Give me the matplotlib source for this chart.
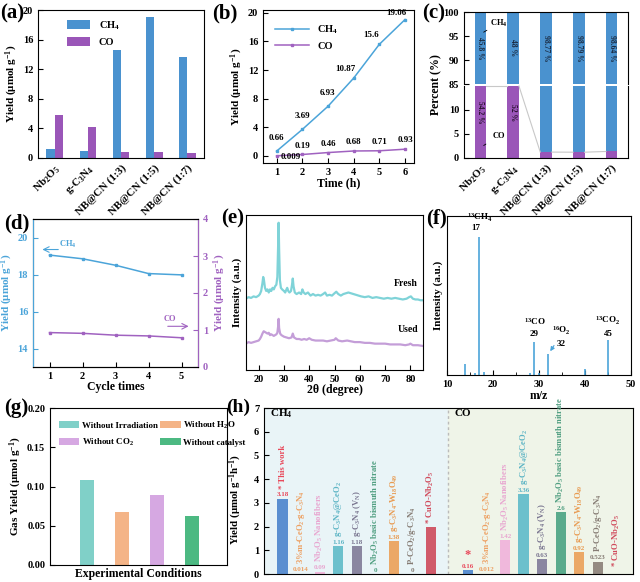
import matplotlib
matplotlib.use("Agg")
import matplotlib.pyplot as plt
import numpy as np

plt.rcParams['font.family'] = ['Liberation Serif', 'DejaVu Serif']
plt.rcParams['font.weight'] = 'bold'
plt.rcParams['axes.labelweight'] = 'bold'
plt.rcParams['mathtext.fontset'] = 'custom'
plt.rcParams['mathtext.rm'] = 'Liberation Serif:bold'
plt.rcParams['mathtext.it'] = 'Liberation Serif:bold'
plt.rcParams['mathtext.bf'] = 'Liberation Serif:bold'
plt.rcParams['mathtext.default'] = 'rm'
plt.rcParams['xtick.direction'] = 'in'
plt.rcParams['ytick.direction'] = 'in'
plt.rcParams['xtick.labelsize'] = 7.5
plt.rcParams['ytick.labelsize'] = 7.5
plt.rcParams['axes.linewidth'] = 0.8

BLUE = '#4a92cf'
PURPLE = '#9a56b8'
LBLUE = '#4ba4d9'
LPURP = '#a062c0'

# ---- data ----
samples = ['Nb$_2$O$_5$', 'g-C$_3$N$_4$', 'NB@CN (1:3)', 'NB@CN (1:5)', 'NB@CN (1:7)']
yield_ch4 = [1.2, 0.9, 14.65, 19.0, 13.7]
yield_co = [5.8, 4.15, 0.75, 0.85, 0.65]

time_h = [1, 2, 3, 4, 5, 6]
ch4_time = [0.66, 3.69, 6.93, 10.87, 15.6, 19.06]
co_time = [0.009, 0.19, 0.46, 0.68, 0.71, 0.93]

pct_ch4 = [45.8, 48, 98.77, 98.79, 98.64]
pct_co = [54.2, 52, 1.23, 1.21, 1.36]

cycles = [1, 2, 3, 4, 5]
cyc_ch4 = [19.05, 18.85, 18.5, 18.05, 17.98]
cyc_co = [0.93, 0.91, 0.86, 0.84, 0.79]

xrd_fresh_x = [15, 16, 17, 18, 19, 20, 20.5, 21, 21.5, 21.8, 22.1, 22.5, 23, 23.5, 24, 24.5, 25, 25.5, 26,
               26.5, 27, 27.4, 27.7, 27.9, 28.1, 28.4, 28.8, 29.3, 30, 30.5, 31, 31.3, 31.7, 32.2, 32.8,
               33.2, 33.5, 33.8, 34.3, 35, 36, 36.8, 37.3, 37.8, 38.5, 39.5, 40.5, 41.5, 42.5, 43.5, 44.5,
               45.5, 46.3, 47, 48, 49, 50, 50.7, 51.5, 52.5, 53.5, 54.5, 55.5, 56.5, 57.5, 58.5, 59.5,
               60.5, 62, 63.5, 65, 66.5, 68, 69.5, 71, 72.5, 74, 75.5, 77, 78.5, 79.5, 80.2, 81, 82, 83,
               84, 85]
xrd_fresh_y = [0.46, 0.47, 0.465, 0.475, 0.47, 0.48, 0.49, 0.51, 0.56, 0.60, 0.58, 0.53, 0.51, 0.52, 0.50,
               0.52, 0.51, 0.53, 0.52, 0.54, 0.55, 0.60, 0.80, 0.95, 0.78, 0.58, 0.53, 0.52, 0.51, 0.50,
               0.52, 0.53, 0.51, 0.50, 0.51, 0.55, 0.59, 0.54, 0.50, 0.49, 0.50, 0.49, 0.52, 0.50, 0.49,
               0.50, 0.48, 0.49, 0.48, 0.485, 0.48, 0.49, 0.50, 0.48, 0.485, 0.48, 0.495, 0.505, 0.49,
               0.48, 0.49, 0.495, 0.50, 0.495, 0.49, 0.485, 0.48, 0.475, 0.47, 0.475, 0.465, 0.47, 0.465,
               0.46, 0.465, 0.46, 0.465, 0.46, 0.455, 0.46, 0.47, 0.475, 0.46, 0.455, 0.455, 0.45, 0.45]
xrd_used_x = [15, 16, 17, 18, 19, 20, 20.5, 21, 21.5, 22, 22.5, 23, 23.5, 24, 24.5, 25, 25.5, 26, 26.5,
              27, 27.4, 27.7, 27.9, 28.1, 28.5, 29, 30, 31, 32, 33, 33.5, 34, 35, 36, 37, 38, 39, 40, 41,
              42.5, 44, 45.5, 47, 48.5, 50, 50.5, 51.5, 53, 55, 56.5, 58, 60, 62, 64, 66, 68, 70, 72, 74,
              76, 78, 79.5, 80, 81, 83, 85]
xrd_used_y = [0.17, 0.18, 0.175, 0.18, 0.185, 0.19, 0.20, 0.215, 0.235, 0.25, 0.245, 0.24, 0.235, 0.24,
              0.225, 0.23, 0.225, 0.22, 0.225, 0.23, 0.24, 0.28, 0.33, 0.27, 0.235, 0.225, 0.215, 0.21,
              0.205, 0.21, 0.235, 0.21, 0.20, 0.20, 0.195, 0.20, 0.195, 0.205, 0.195, 0.19, 0.19, 0.19,
              0.185, 0.19, 0.195, 0.205, 0.19, 0.185, 0.19, 0.185, 0.18, 0.18, 0.175, 0.175, 0.17, 0.17,
              0.17, 0.165, 0.165, 0.165, 0.16, 0.165, 0.17, 0.16, 0.16, 0.155]

mz = [14, 16, 17, 18, 28, 29, 30, 32, 40, 45]
ms_int = [0.07, 0.015, 0.87, 0.02, 0.015, 0.21, 0.01, 0.13, 0.035, 0.22]

cond_labels = ['Without Irradiation', 'Without H$_2$O', 'Without CO$_2$', 'Without catalyst']
cond_vals = [0.108, 0.068, 0.089, 0.062]
cond_colors = ['#80d0c8', '#f4b487', '#d6a8e2', '#4cb982']

ref_labels = ['* This work', '3%m-CeO$_2$-g-C$_3$N$_4$', 'Nb$_2$O$_5$ Nanofibers', 'g-C$_3$N$_4$@CeO$_2$',
              'g-C$_3$N$_4$ (V$_N$)', 'Nb$_2$O$_5$ basic bismuth nitrate', 'g-C$_3$N$_4$-W$_{18}$O$_{49}$',
              'P-CeO$_2$/g-C$_3$N$_4$', '* CuO-Nb$_2$O$_5$']
ref_ch4 = [3.18, 0.014, 0.09, 1.16, 1.18, 0, 1.38, 0, 2.0]
ref_ch4_txt = ['3.18', '0.014', '0.09', '1.16', '1.18', '0', '1.38', '0', '']
ref_co = [0.16, 0.012, 1.42, 3.36, 0.63, 2.6, 0.92, 0.523, 0]
ref_co_txt = ['0.16', '0.012', '1.42', '3.36', '0.63', '2.6', '0.92', '0.523', '']
ref_colors = ['#5b8fd0', '#eda062', '#f0b8dc', '#6cc0cc', '#8a86a0', '#5aaa8c', '#eba867', '#948a82', '#d05a6a']
ref_txt_colors = ['#e8485a', '#eda062', '#e8a6d0', '#5cb4c4', '#7a7690', '#4f9e80', '#e89a50', '#857b73', '#d0485a']

W, H = 640, 582
fig = plt.figure(figsize=(6.4, 5.82), dpi=100)


def box(l, t, r, b):
    return [l / W, 1 - b / H, (r - l) / W, (b - t) / H]


def plabel(txt, x, y, size=15):
    fig.text(x / W, 1 - y / H, txt, fontsize=size, fontweight='bold', va='center', ha='left')


ylab_yield = 'Yield (μmol g$^{-1}$)'

# ---- (a) ----
ax = fig.add_axes(box(38, 10, 204, 158))
x = np.arange(len(samples))
ax.bar(x - 0.125, yield_ch4, 0.25, color=BLUE, label='CH$_4$')
ax.bar(x + 0.125, yield_co, 0.25, color=PURPLE, label='CO')
ax.set_xlim(-0.5, 4.5)
ax.set_ylim(0, 20)
ax.set_yticks(range(0, 21, 4))
ax.set_xticks(x)
ax.set_xticklabels(samples, rotation=45, ha='right', rotation_mode='anchor', fontsize=8)
ax.tick_params(axis='x', length=0)
ax.set_ylabel(ylab_yield, fontsize=8, labelpad=2)
ax.legend(loc='upper left', frameon=False, fontsize=7.5, handlelength=2.2, handleheight=0.9,
          bbox_to_anchor=(0.12, 1.0))
plabel('(a)', 0, 13)

# ---- (b) ----
ax = fig.add_axes(box(263, 10, 414, 163))
ax.plot(time_h, ch4_time, color=LBLUE, marker='s', ms=2, lw=1.1, label='CH$_4$')
ax.plot(time_h, co_time, color=LPURP, marker='s', ms=2, lw=1.1, label='CO')
ch4_off = [(0, 8), (0, 8), (0, 8), (-6, 5), (-6, 5), (-6, 3)]
for xi, yi, off in zip(time_h, ch4_time, ch4_off):
    ax.annotate(f'{yi:g}', (xi, yi), xytext=off, textcoords='offset points', ha='center',
                fontsize=6.5, fontweight='bold')
co_off = [(10, -2), (0, 5), (0, 5), (0, 5), (0, 5), (0, 5)]
for xi, yi, off in zip(time_h, co_time, co_off):
    ax.annotate(f'{yi:g}', (xi, yi), xytext=off, textcoords='offset points', ha='center',
                fontsize=6.5, fontweight='bold')
ax.set_xlim(0.47, 6.35)
ax.set_ylim(-1, 20.4)
ax.set_yticks(range(0, 21, 4))
ax.set_xticks(time_h)
ax.set_xlabel('Time (h)', fontsize=8.5, labelpad=0)
ax.set_ylabel(ylab_yield, fontsize=8, labelpad=2)
ax.legend(loc='upper left', frameon=False, fontsize=7.5, handlelength=3.2, bbox_to_anchor=(0.02, 0.97))
plabel('(b)', 212, 13)

# ---- (c) broken axis ----
axt = fig.add_axes(box(464, 12, 628, 84))
axb = fig.add_axes(box(464, 86, 628, 158))
xc = np.arange(len(samples))
bw = 0.35
for a in (axt, axb):
    a.bar(xc, pct_co, bw, color=PURPLE)
    a.bar(xc, pct_ch4, bw, bottom=pct_co, color=BLUE)
    a.set_xlim(-0.5, 4.5)
axt.set_ylim(85, 100)
axb.set_ylim(0, 15)
axt.set_yticks([85, 90, 95, 100])
axb.set_yticks([0, 5, 10])
axt.spines['bottom'].set_visible(False)
axb.spines['top'].set_visible(False)
axt.set_xticks([])
axb.set_xticks(xc)
axb.set_xticklabels(samples, rotation=45, ha='right', rotation_mode='anchor', fontsize=8)
axb.tick_params(axis='x', length=0)
for xi, p in zip(xc, pct_ch4):
    axt.text(xi, 92.5, f'{p:g} %', rotation=270, ha='center', va='center', fontsize=5.5, color='#1a2a40')
for xi, p in zip(xc[:2], pct_co[:2]):
    axb.text(xi, 9.5, f'{p:g} %', rotation=270, ha='center', va='center', fontsize=5.5, color='#2a1030')
# connect lines between CO tops (shown as capped at the break)
for i in range(len(xc) - 1):
    y0 = min(pct_co[i], 15)
    y1 = min(pct_co[i + 1], 15)
    axb.plot([xc[i] + bw / 2, xc[i + 1] - bw / 2], [y0, y1], color='#c8c8c8', lw=0.8, clip_on=False)
axt.annotate('CH$_4$', xy=(0.1, 95.8), xytext=(0.55, 97.6), fontsize=6, ha='center', va='center',
             arrowprops=dict(arrowstyle='-', color='k', lw=0.6, shrinkA=3, shrinkB=0))
axb.annotate('CO', xy=(0.1, 2.6), xytext=(0.55, 4.6), fontsize=6, ha='center', va='center',
             arrowprops=dict(arrowstyle='-', color='k', lw=0.6, shrinkA=3, shrinkB=0))
fig.text(436 / W, 1 - 85 / H, 'Percent (%)', rotation=90, ha='center', va='center', fontsize=8.5,
         fontweight='bold')
plabel('(c)', 422, 13)

# ---- (d) ----
ax = fig.add_axes(box(33, 219, 198, 367))
ax2 = ax.twinx()
ax.plot(cycles, cyc_ch4, color=LBLUE, marker='s', ms=2, lw=1.1)
ax2.plot(cycles, cyc_co, color=LPURP, marker='s', ms=2, lw=1.1)
ax.set_xlim(0.5, 5.5)
ax.set_ylim(13, 21)
ax.set_yticks([14, 16, 18, 20])
ax2.set_ylim(0, 4)
ax2.set_yticks([0, 1, 2, 3, 4])
ax.set_xticks(cycles)
ax.set_xlabel('Cycle times', fontsize=8.5, labelpad=0)
ax.set_ylabel(ylab_yield, fontsize=8, color=LBLUE, labelpad=2)
ax2.set_ylabel(ylab_yield, fontsize=8, color=LPURP, labelpad=3)
ax.tick_params(axis='y', colors=LBLUE)
ax2.tick_params(axis='y', colors=LPURP)
ax2.spines['left'].set_color(LBLUE)
ax2.spines['right'].set_color(LPURP)
ax.annotate('', xy=(0.7, 19.35), xytext=(1.35, 19.35),
            arrowprops=dict(arrowstyle='->', color=LBLUE, lw=0.8))
ax.text(1.3, 19.6, 'CH$_4$', color=LBLUE, fontsize=6, ha='left', va='center')
ax2.annotate('', xy=(5.3, 1.1), xytext=(4.5, 1.1),
             arrowprops=dict(arrowstyle='->', color=LPURP, lw=0.8))
ax2.text(4.45, 1.3, 'CO', color=LPURP, fontsize=6, ha='left', va='center')
plabel('(d)', 4, 223)

# ---- (e) ----
ax = fig.add_axes(box(246, 215, 423, 370))
ax.plot(xrd_fresh_x, xrd_fresh_y, color='#7fd3d8', lw=1.6)
ax.plot(xrd_used_x, xrd_used_y, color='#c49ed8', lw=1.6)
ax.set_xlim(15, 85)
ax.set_ylim(0, 1)
ax.set_xticks(range(20, 81, 10))
ax.set_yticks([])
ax.text(83, 0.56, 'Fresh', fontsize=7, ha='right', va='center')
ax.text(83, 0.26, 'Used', fontsize=7, ha='right', va='center')
ax.set_xlabel('2θ (degree)', fontsize=8.5, labelpad=0)
ax.set_ylabel('Intensity (a.u.)', fontsize=8, labelpad=3)
plabel('(e)', 221, 218)

# ---- (f) ----
ax = fig.add_axes(box(447, 216, 631, 375))
ax.vlines(mz, 0, ms_int, color=LBLUE, lw=1.2)
ax.set_xlim(10, 50)
ax.set_ylim(0, 1)
ax.set_xticks(range(10, 51, 10))
ax.set_xticks(range(15, 50, 10), minor=True)
ax.set_yticks([])
ax.set_xlabel('m/z', fontsize=8.5, labelpad=1)
ax.set_ylabel('Intensity (a.u.)', fontsize=8, labelpad=3)
ax.text(17, 0.95, '$^{13}$CH$_4$', fontsize=6.5, ha='center', va='bottom')
ax.text(16.3, 0.9, '17', fontsize=6.5, ha='center', va='bottom')
ax.text(29, 0.3, '$^{13}$CO', fontsize=6.5, ha='center', va='bottom')
ax.text(29, 0.235, '29', fontsize=6.5, ha='center', va='bottom')
ax.annotate('', xy=(32.1, 0.135), xytext=(33.6, 0.2),
            arrowprops=dict(arrowstyle='-|>', color=LBLUE, lw=0.8, mutation_scale=6))
ax.text(34.8, 0.24, '$^{16}$O$_2$', fontsize=6.5, ha='center', va='bottom')
ax.text(34.8, 0.17, '32', fontsize=6.5, ha='center', va='bottom')
ax.text(45, 0.3, '$^{13}$CO$_2$', fontsize=6.5, ha='center', va='bottom')
ax.text(45, 0.235, '45', fontsize=6.5, ha='center', va='bottom')
plabel('(f)', 426, 218)

# ---- (g) ----
ax = fig.add_axes(box(50, 408, 227, 565))
xg = np.arange(len(cond_vals))
handles = []
for xi, v, c, lab in zip(xg, cond_vals, cond_colors, cond_labels):
    handles.append(ax.bar(xi, v, 0.4, color=c, label=lab))
ax.set_xlim(-1.05, 4.0)
ax.set_ylim(0, 0.2)
ax.set_yticks(np.arange(0, 0.201, 0.05))
ax.set_yticklabels(['0.00', '0.05', '0.10', '0.15', '0.20'])
ax.set_xticks([])
ax.set_xlabel('Experimental Conditions', fontsize=8.5, labelpad=2)
ax.set_ylabel('Gas Yield (μmol g$^{-1}$)', fontsize=8, labelpad=2)
# two columns, filled row by row
order = [0, 2, 1, 3]
ax.legend([handles[i] for i in order], [cond_labels[i] for i in order], loc='upper left', ncol=2,
          frameon=False, fontsize=6.4, handlelength=2.3, handleheight=0.9, columnspacing=0.3,
          handletextpad=0.25, bbox_to_anchor=(0.02, 0.96), labelspacing=0.8, borderaxespad=0.2)
plabel('(g)', 4, 408)

# ---- (h) ----
ax = fig.add_axes(box(264, 408, 633, 574))
x_ch4 = np.arange(len(ref_labels))
x_co = x_ch4 + 10
split = 8.9
ax.axvspan(-1.0, split, color='#e9f4f7', zorder=0)
ax.axvspan(split, 18.9, color='#eff4e8', zorder=0)
ax.axvline(split, color='#bbbbbb', ls=(0, (2, 2)), lw=1.0)
for xs, vals, txts in ((x_ch4, ref_ch4, ref_ch4_txt), (x_co, ref_co, ref_co_txt)):
    ax.bar(xs, vals, 0.55, color=ref_colors, zorder=2)
    for xi, v, t, c in zip(xs, vals, txts, ref_txt_colors):
        if t:
            ax.text(xi, v + 0.06, t, ha='center', va='bottom', fontsize=5, color=c, zorder=3)
for i, (lab, c) in enumerate(zip(ref_labels, ref_txt_colors)):
    y0 = ref_ch4[i] + 0.4 if ref_ch4_txt[i] else ref_ch4[i] + 0.12
    ax.text(x_ch4[i], y0, lab, rotation=90, ha='center', va='bottom', fontsize=6.2, color=c, zorder=3)
for i, (lab, c) in enumerate(zip(ref_labels, ref_txt_colors)):
    if i == 0:
        ax.text(x_co[i], ref_co[i] + 0.4, '*', ha='center', va='bottom', fontsize=9, color=c)
        continue
    y0 = ref_co[i] + 0.4 if ref_co_txt[i] else ref_co[i] + 0.3
    ax.text(x_co[i], y0, lab, rotation=90, ha='center', va='bottom', fontsize=6.2, color=c, zorder=3)
ax.text(-0.7, 6.75, 'CH$_4$', fontsize=8, ha='left', va='center')
ax.text(9.3, 6.75, 'CO', fontsize=8, ha='left', va='center')
ax.set_xlim(-1.0, 18.9)
ax.set_ylim(0, 7)
ax.set_yticks(range(0, 8))
ax.set_xticks([])
ax.set_ylabel('Yield (μmol g$^{-1}$h$^{-1}$)', fontsize=7.8, labelpad=2)
ax.yaxis.set_label_coords(-0.055, 0.45)
plabel('(h)', 226, 407, size=14)

fig.savefig('out.png', dpi=100)
